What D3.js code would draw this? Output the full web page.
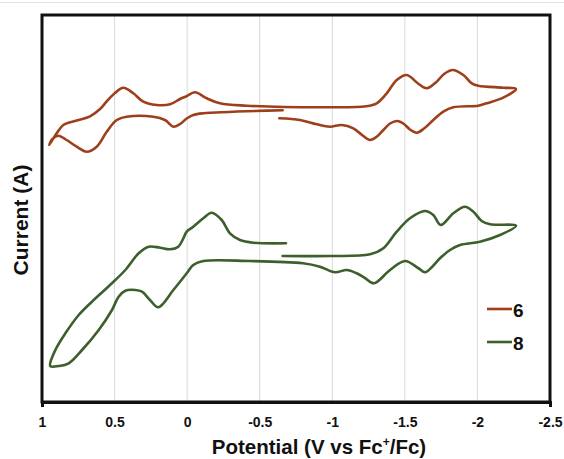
<!DOCTYPE html>
<html>
<head>
<meta charset="utf-8">
<script src="https://cdn.jsdelivr.net/npm/d3@7"></script>
<style>
  body { margin: 0; background: #fff; }
  text { font-family: "Liberation Sans", Arial, sans-serif; font-weight: bold; fill: #111; }
</style>
</head>
<body>
<script>
'use strict'

let width = 564
let height = 459
let margin = { top: 15, right: 14, bottom: 57, left: 42 }

// potential ticks (V vs Fc+/Fc), axis runs from +1 to -2.5
let xTicks = [1, 0.5, 0, -0.5, -1, -1.5, -2, -2.5]
let xTickLabels = ["1", "0.5", "0", "-0.5", "-1", "-1.5", "-2", "-2.5"]

// compound 6 : potential (V) and current (arb. units), in scan order
let potential6 = [-0.635, -0.778, -0.893, -0.984, -1.065, -1.145, -1.205, -1.260, -1.308, -1.352, -1.398, -1.448, -1.494, -1.535, -1.582,
  -1.632, -1.696, -1.765, -1.834, -2.006, -2.064, -2.178, -2.266,
  -2.178, -2.006, -1.961, -1.903, -1.830, -1.770, -1.719, -1.651, -1.591, -1.513, -1.444, -1.375, -1.306, -1.232, -0.984, -0.410,
  -0.226, -0.135, -0.054, 0.008, 0.049, 0.118, 0.210, 0.302, 0.371, 0.440, 0.497, 0.552, 0.600, 0.669, 0.761, 0.853, 0.899, 0.950,
  0.928, 0.888, 0.830, 0.761, 0.692, 0.623, 0.554, 0.485, 0.416, 0.233, 0.153, 0.095, 0.049, 0.003, -0.042, -0.111, -0.658]
let current6 = [28.37, 28.2, 27.77, 27.53, 27.7, 27.37, 26.7, 26.2, 26.55, 27.2, 27.85, 28.1, 27.8, 27.25, 26.93,
  27.35, 28.2, 29.03, 29.47, 29.63, 29.87, 30.43, 31.3,
  31.43, 31.63, 31.87, 32.7, 33.2, 32.8, 32.03, 31.37, 31.85, 32.7, 32.2, 30.87, 29.87, 29.57, 29.47, 29.63,
  29.87, 30.37, 30.97, 30.55, 30.3, 29.77, 29.7, 30.03, 30.87, 31.43, 30.9, 30.1, 29.3, 28.57, 28.15, 27.7, 26.87, 25.7,
  26.3, 26.63, 26.2, 25.53, 25.03, 25.53, 27.03, 28.2, 28.53, 28.53, 28.2, 27.53, 27.8, 28.35, 28.7, 28.87, 29.17]

// compound 8
let potential8 = [-0.658, -0.984, -1.260, -1.352, -1.444, -1.535, -1.639, -1.696, -1.747, -1.834, -1.914, -1.972, -2.029, -2.087, -2.266,
  -2.156, -2.018, -1.880, -1.811, -1.742, -1.687, -1.639, -1.591, -1.501, -1.398, -1.287, -1.225, -1.168, -1.099, -1.019, -0.915, -0.798,
  -0.433, -0.111, -0.042, 0.003, 0.095, 0.199, 0.256, 0.311, 0.357, 0.426, 0.472, 0.518, 0.609, 0.724, 0.816, 0.885, 0.943,
  0.908, 0.839, 0.747, 0.656, 0.518, 0.426, 0.334, 0.265, 0.187, 0.118, 0.061, 0.026, 0.003, -0.042, -0.111, -0.169, -0.238, -0.295,
  -0.364, -0.456, -0.681]
let current8 = [14.6, 14.6, 14.77, 15.37, 17.03, 18.37, 19.1, 18.7, 17.7, 18.87, 19.53, 19.03, 18.1, 17.77, 17.63,
  16.7, 16.03, 15.7, 15.2, 14.37, 13.5, 12.97, 13.4, 14.1, 13.2, 11.87, 12.4, 12.87, 13.2, 12.97, 13.53, 13.87,
  14.1, 14.1, 13.7, 12.87, 11.2, 9.47, 10.2, 11.03, 11.2, 11.13, 10.53, 9.2, 7.2, 5.2, 3.87, 3.6, 3.6,
  5.2, 6.87, 8.7, 10.03, 11.87, 13.2, 14.87, 15.53, 15.43, 15.27, 15.53, 16.37, 17.03, 17.53, 18.37, 18.93, 18.2, 16.87,
  16.2, 15.93, 15.87]

let seriesNames = ["6", "8"]
let seriesColors = ["#9e3f1b", "#3c5f2c"]

let series = [
  { name: seriesNames[0], color: seriesColors[0], pts: d3.zip(potential6, current6) },
  { name: seriesNames[1], color: seriesColors[1], pts: d3.zip(potential8, current8) }
]

let svg = d3.select("body").append("svg")
            .attr("width", width)
            .attr("height", height)

// faint outer border line at the top of the picture
svg.append("line")
   .attr("x1", 0).attr("x2", width)
   .attr("y1", 2.5).attr("y2", 2.5)
   .attr("stroke", "#e2e2e2")

let x = d3.scaleLinear()
          .domain([1, -2.5])
          .range([margin.left, width - margin.right])

let y = d3.scaleLinear()
          .domain([0, 38.7])
          .range([height - margin.bottom, margin.top])

//gridlines
svg.append("g")
   .selectAll("line")
   .data(xTicks.slice(1, -1))
   .enter()
   .append("line")
   .attr("x1", d => x(d)).attr("x2", d => x(d))
   .attr("y1", margin.top).attr("y2", height - margin.bottom)
   .attr("stroke", "#d9d9d9")
   .attr("stroke-width", 1)

// x axis with labels only
let xAxis = d3.axisBottom(x)
              .tickValues(xTicks)
              .tickFormat((d, i) => xTickLabels[i])
              .tickSizeInner(0)
              .tickSizeOuter(5)
              .tickPadding(15)

let gx = svg.append("g")
            .attr("transform", "translate(0," + (height - margin.bottom) + ")")
            .call(xAxis)
gx.select(".domain").attr("stroke", "#111").attr("stroke-width", 3)
gx.selectAll(".tick text")
  .style("font-size", "14px")
  .style("font-family", "'Liberation Sans', Arial, sans-serif")
  .style("font-weight", "bold")
  .attr("fill", "#111")

// frame
svg.append("rect")
   .attr("x", margin.left)
   .attr("y", margin.top)
   .attr("width", x(-2.5) - x(1))
   .attr("height", y(0) - y(38.7))
   .attr("fill", "none")
   .attr("stroke", "#111")
   .attr("stroke-width", 3)

let line = d3.line()
             .x(d => x(d[0]))
             .y(d => y(d[1]))
             .curve(d3.curveCatmullRom.alpha(0.5))

svg.selectAll(".cv")
   .data(series)
   .enter()
   .append("path")
   .attr("class", "cv")
   .attr("d", d => line(d.pts))
   .attr("fill", "none")
   .attr("stroke", d => d.color)
   .attr("stroke-width", 2.6)
   .attr("stroke-linejoin", "round")
   .attr("stroke-linecap", "round")

// legend
let legend = svg.selectAll(".leg")
                .data(series)
                .enter()
                .append("g")
                .attr("class", "leg")
                .attr("transform", (d, i) => "translate(487," + (309 + i * 33) + ")")
legend.append("line")
      .attr("x1", 0).attr("x2", 25)
      .attr("stroke", d => d.color)
      .attr("stroke-width", 2.6)
legend.append("text")
      .attr("x", 26)
      .attr("y", 7.5)
      .style("font-size", "19px")
      .text(d => d.name)

//  axis titles
svg.append("text")
   .attr("text-anchor", "middle")
   .attr("transform", "translate(28," + 220 + ")rotate(-90)")
   .style("font-size", "21px")
   .text("Current (A)")

let xt = svg.append("text")
            .attr("text-anchor", "middle")
            .attr("x", 319)
            .attr("y", 454)
            .style("font-size", "20.5px")
xt.append("tspan").text("Potential (V vs Fc")
xt.append("tspan").attr("dy", -8).style("font-size", "12px").text("+")
xt.append("tspan").attr("dy", 8).text("/Fc)")
</script>
</body>
</html>
